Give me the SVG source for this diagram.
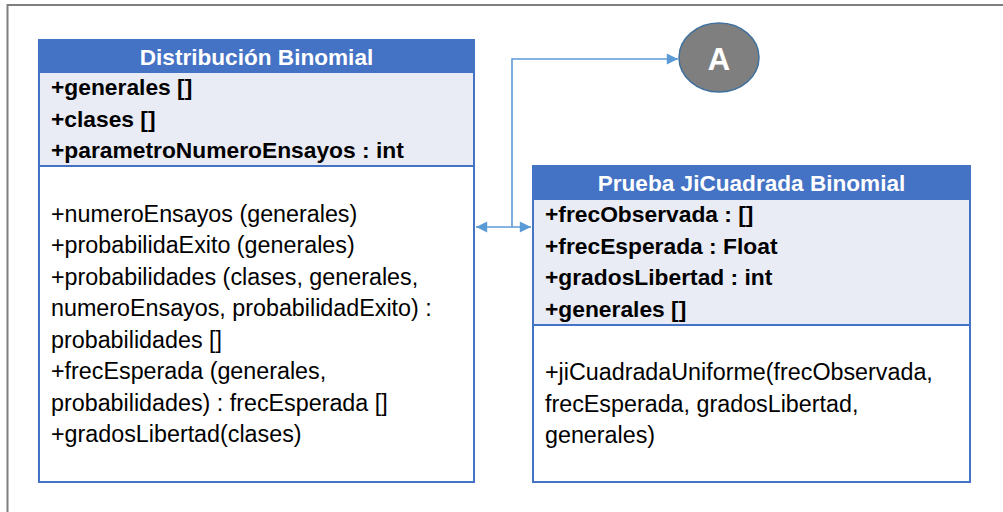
<svg xmlns="http://www.w3.org/2000/svg" width="1003" height="512" viewBox="0 0 1003 512">
<style>
.frame{fill:none;stroke:#7F7F7F;stroke-width:2}
.hdr{fill:#4472C4;stroke:#4472C4;stroke-width:2}
.attr{fill:#E9EBF5;stroke:#4472C4;stroke-width:2}
.meth{fill:#FFFFFF;stroke:#4472C4;stroke-width:2}
.t{font-family:"Liberation Sans",Arial,sans-serif;font-size:23.3px;fill:#000}
.b{font-weight:bold;font-size:22.8px}
.ht{font-family:"Liberation Sans",Arial,sans-serif;font-size:22.6px;font-weight:bold;fill:#FFFFFF;text-anchor:middle}
.conn{fill:none;stroke:#5B9BD5;stroke-width:1.6}
</style>
<defs>
<marker id="arr" viewBox="0 0 10 10" refX="10" refY="5" markerWidth="7.5" markerHeight="7" markerUnits="strokeWidth" orient="auto-start-reverse">
<path d="M0,0 L10,5 L0,10 Z" fill="#5B9BD5"/>
</marker>
</defs>
<rect width="1003" height="512" fill="#FFFFFF"/>
<path class="frame" d="M7.5,512 V5 H1003"/>

<g id="connectors">
<path class="conn" d="M512,227 V59 H678" marker-end="url(#arr)"/>
<path class="conn" d="M476,227 H531" marker-start="url(#arr)" marker-end="url(#arr)"/>
</g>

<g id="distribucion-binomial">
<rect class="meth" x="39" y="166" width="435" height="316"/>
<rect class="attr" x="39" y="72" width="435" height="94"/>
<rect class="hdr" x="39" y="40" width="435" height="32"/>
<text class="ht" x="256.5" y="65">Distribución Binomial</text>
<text class="t b" x="51" y="95">+generales []</text>
<text class="t b" x="51" y="126.5">+clases []</text>
<text class="t b" x="51" y="158">+parametroNumeroEnsayos : int</text>
<text class="t" x="51" y="221.7">+numeroEnsayos (generales)</text>
<text class="t" x="51" y="253">+probabilidaExito (generales)</text>
<text class="t" x="51" y="284.7">+probabilidades (clases, generales,</text>
<text class="t" x="51" y="316">numeroEnsayos, probabilidadExito) :</text>
<text class="t" x="51" y="347.7">probabilidades []</text>
<text class="t" x="51" y="379">+frecEsperada (generales,</text>
<text class="t" x="51" y="410.7">probabilidades) : frecEsperada []</text>
<text class="t" x="51" y="442">+gradosLibertad(clases)</text>
</g>

<g id="prueba-jicuadrada-binomial">
<rect class="meth" x="533" y="325" width="437" height="157"/>
<rect class="attr" x="533" y="199" width="437" height="126"/>
<rect class="hdr" x="533" y="166" width="437" height="33"/>
<text class="ht" x="751.5" y="191">Prueba JiCuadrada Binomial</text>
<text class="t b" x="545" y="222">+frecObservada : []</text>
<text class="t b" x="545" y="253.5">+frecEsperada : Float</text>
<text class="t b" x="545" y="285">+gradosLibertad : int</text>
<text class="t b" x="545" y="316.5">+generales []</text>
<text class="t" x="545" y="380">+jiCuadradaUniforme(frecObservada,</text>
<text class="t" x="545" y="411.5">frecEsperada, gradosLibertad,</text>
<text class="t" x="545" y="443">generales)</text>
</g>

<g id="connector-A">
<ellipse cx="719" cy="57.5" rx="40" ry="34.5" fill="#7F7F7F" stroke="#41719C" stroke-width="1.5"/>
<text x="719" y="70" font-family="Liberation Sans, Arial, sans-serif" font-size="31" font-weight="bold" fill="#FFFFFF" text-anchor="middle">A</text>
</g>
</svg>
